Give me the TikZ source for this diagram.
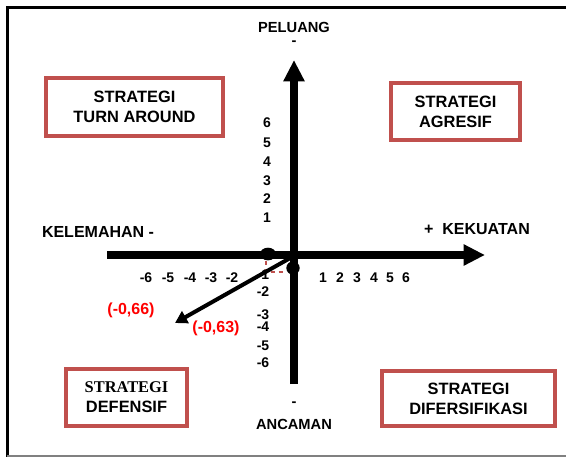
\documentclass[tikz,border=0pt]{standalone}
\usepackage{fontspec}
\setmainfont{Liberation Sans}
\newfontfamily\timesbold{Liberation Serif}
\usetikzlibrary{arrows.meta,shapes.geometric}
\definecolor{boxred}{RGB}{192,80,77}
\tikzset{%
  stratbox/.style={draw=boxred,line width=3pt,inner sep=0,align=center,
    font=\bfseries\fontsize{12.3}{15}\selectfont},
  axis/.style={line width=5.5pt,-{Triangle[length=16pt,width=15pt]}},
  vec/.style={line width=3pt,-{Triangle[length=9pt,width=10pt]}},
  num/.style={font=\bfseries\fontsize{10.5}{12}\selectfont,inner sep=0},
  lbl/.style={font=\bfseries\fontsize{11}{12}\selectfont,inner sep=0},
  side/.style={font=\bfseries\fontsize{12}{14}\selectfont,inner sep=0},
  val/.style={font=\bfseries\fontsize{12}{14}\selectfont,text=red,inner sep=0},
  bigdot/.style={shape=ellipse,fill=black,inner sep=0},
  reddash/.style={draw=boxred,dashed,line width=0.8pt}
}

\begin{document}
\begin{tikzpicture}[x=0.75pt,y=-0.75pt]
  \useasboundingbox (0,0) rectangle (566,457);
  % page frame
  \draw[line width=2.25pt] (566,7) -- (7,7) -- (7,457);
  \draw[black!50,line width=1pt] (7,456) -- (566,456);

  % four strategy boxes
  \node[stratbox,minimum width=132.75pt,minimum height=43.5pt] (turn) at (134.5,107)
    {STRATEGI\\TURN AROUND};
  \node[stratbox,minimum width=96.75pt,minimum height=42.75pt] (agr) at (455.5,111.5)
    {STRATEGI\\AGRESIF};
  \node[stratbox,minimum width=90.75pt,minimum height=42.75pt] (def) at (126.5,397.5)
    {{\timesbold STRATEGI}\\DEFENSIF};
  \node[stratbox,minimum width=129.75pt,minimum height=41.25pt] (dif) at (468.5,398.5)
    {STRATEGI\\DIFERSIFIKASI};

  % axis ends
  \coordinate (top) at (294,60);
  \coordinate (bot) at (294,384);
  \coordinate (lft) at (107,255);
  \coordinate (rgt) at (485,255);
  \coordinate (o) at (292,257);
  \coordinate (res) at (175,323);

  % axis labels
  \node[lbl] (peluang) at (294,27) {PELUANG};
  \node[lbl] (pmin) at (294,43) {-};
  \node[lbl] (ancmin) at (294,404) {-};
  \node[lbl] (ancaman) at (294,424) {ANCAMAN};
  \node[side] (kelemahan) at (98,232) {KELEMAHAN -};
  \node[side] (kekuatan) at (477,229) {+ \ KEKUATAN};

  % scale numbers
  \path[every node/.style={num}]
    (267,123) node(y6){6}
    (267,143) node(y5){5}
    (267,162) node(y4){4}
    (267,181) node(y3){3}
    (267,199) node(y2){2}
    (267,218) node(y1){1}
    (263,275) node(ym1){-1}
    (263,292) node(ym2){-2}
    (263,315) node(ym3){-3}
    (263,327) node(ym4){-4}
    (263,346) node(ym5){-5}
    (263,363) node(ym6){-6};
  \path[every node/.style={num}]
    (146,278) node(xm6){-6}
    (168,278) node(xm5){-5}
    (190,278) node(xm4){-4}
    (211,278) node(xm3){-3}
    (232,278) node(xm2){-2}
    (323,278) node(x1){1}
    (340,278) node(x2){2}
    (357,278) node(x3){3}
    (374,278) node(x4){4}
    (390,278) node(x5){5}
    (406,278) node(x6){6};

  \draw[axis] (bot) -- (top);
  \draw[axis] (lft) -- (rgt);

  % score points
  \node[bigdot,minimum width=12pt,minimum height=9.5pt] (wdot) at (268,254) {};
  \node[bigdot,minimum width=10pt,minimum height=10pt] (odot) at (293,268) {};
  \coordinate (corner) at (266,272);
  \draw[reddash] (wdot.south -| corner) -- (corner) -- (corner -| odot.west);
  \draw[vec] (o) -- (res);

  \node[val] (v66) at (131,310) {(-0,66)};
  \node[val] (v63) at (216,328) {(-0,63)};
\end{tikzpicture}
\end{document}
